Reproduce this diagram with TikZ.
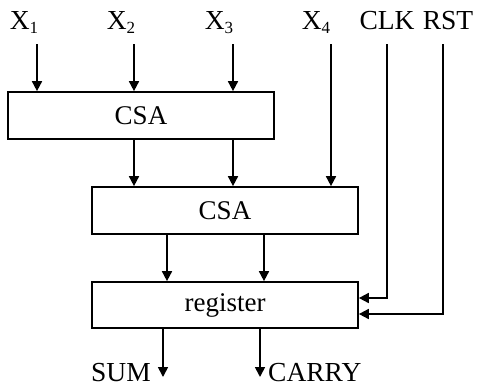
\documentclass[tikz,border=0pt]{standalone}
\usepackage{fontspec}
\setmainfont{Liberation Serif}
\usetikzlibrary{arrows.meta}

\newcommand{\idx}[1]{\raisebox{-4pt}{\fontsize{17}{17}\selectfont #1}}

\tikzset{
  blk/.style={draw, line width=1.7pt, minimum width=266pt, inner sep=0pt,
              font=\fontsize{27}{31}\selectfont},
  lbl/.style={inner sep=0pt, font=\fontsize{27.5}{31}\selectfont},
  sig/.style={line width=1.7pt, -{Triangle[width=10pt,length=10pt]}},
}

\begin{document}
\begin{tikzpicture}[x=1pt,y=-1pt]
\useasboundingbox (0,0) rectangle (479,388);

% Blocks
\node[blk, minimum height=47pt] (csa1) at (141,115.5) {CSA};
\node[blk, minimum height=47pt] (csa2) at (225,210.5) {CSA};
\node[blk, minimum height=46pt] (reg)  at (225,305)   {register};

% Input labels
\node[lbl, anchor=base] (x1)  at (24,29)  {X\idx{1}};
\node[lbl, anchor=base] (x2)  at (121,29) {X\idx{2}};
\node[lbl, anchor=base] (x3)  at (219,29) {X\idx{3}};
\node[lbl, anchor=base] (x4)  at (316,29) {X\idx{4}};
\node[lbl, anchor=base] (clk) at (387,29) {CLK};
\node[lbl, anchor=base] (rst) at (448,29) {RST};

% Wire starts under the labels
\coordinate (p1)   at (37,44);
\coordinate (p2)   at (134,44);
\coordinate (p3)   at (233,44);
\coordinate (p4)   at (331,44);
\coordinate (pclk) at (387,44);
\coordinate (prst) at (443,44);

% Inputs into first CSA
\draw[sig] (p1) -- (p1 |- csa1.north);
\draw[sig] (p2) -- (p2 |- csa1.north);
\draw[sig] (p3) -- (p3 |- csa1.north);

% First CSA into second CSA
\draw[sig] (p2 |- csa1.south) -- (p2 |- csa2.north);
\draw[sig] (p3 |- csa1.south) -- (p3 |- csa2.north);
\draw[sig] (p4) -- (p4 |- csa2.north);

% Second CSA into register
\coordinate (m1) at (167,258);
\coordinate (m2) at (264,258);
\draw[sig] (m1 |- csa2.south) -- (m1 |- reg.north);
\draw[sig] (m2 |- csa2.south) -- (m2 |- reg.north);

% Clock and reset
\draw[sig] (pclk) |- ([yshift=7pt]reg.east);
\draw[sig] (prst) |- ([yshift=-9pt]reg.east);

% Outputs
\coordinate (o1) at (163,377);
\coordinate (o2) at (260,377);
\draw[sig] (o1 |- reg.south) -- (o1);
\draw[sig] (o2 |- reg.south) -- (o2);
\node[lbl, anchor=base east] (sum)   at (151,381) {SUM};
\node[lbl, anchor=base west] (carry) at (268,381) {CARRY};
\end{tikzpicture}
\end{document}
